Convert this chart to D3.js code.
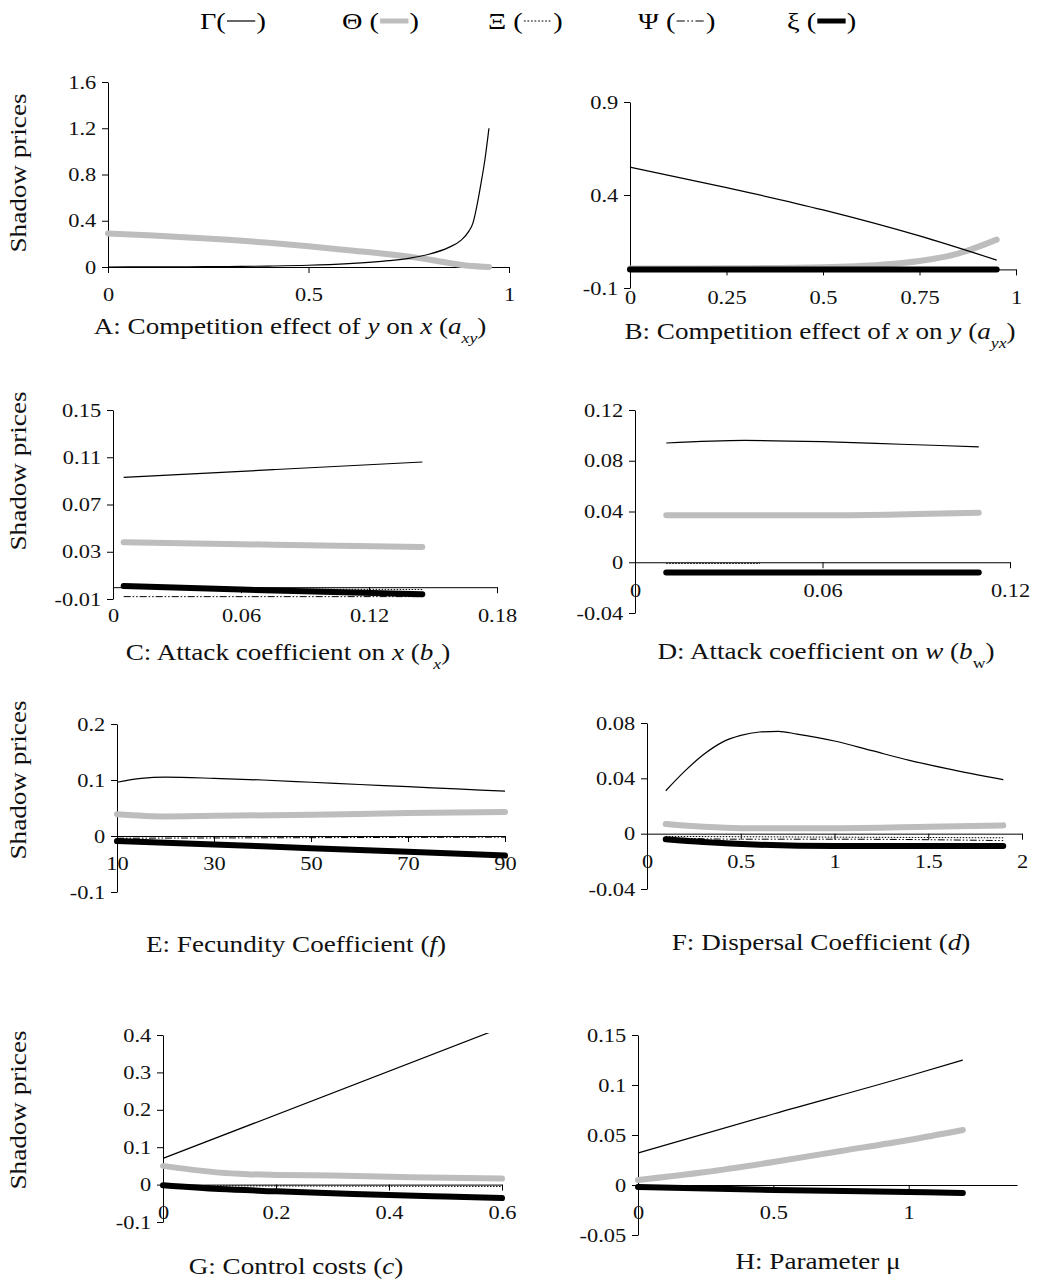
<!DOCTYPE html>
<html>
<head>
<meta charset="utf-8">
<script src="https://cdn.jsdelivr.net/npm/d3@7"></script>
<style>
  body { margin: 0; background: #fff; }
  svg text { font-family: "Liberation Serif", "Times New Roman", serif; }
  .tick text { font-size: 19px; fill: #111; }
  .tick line, .domain { stroke: #000; }
</style>
</head>
<body>
<svg id="chart" width="1055" height="1282"></svg>
<script>
// Series: gamma = Γ, theta = Θ, bigXi = Ξ, psi = Ψ, xi = ξ   ([x, shadow price])

// A: competition effect of y on x
var aGamma = [[0,0],[0.1,0.001],[0.2,0.002],[0.3,0.004],[0.4,0.008],[0.5,0.015],[0.6,0.03],[0.7,0.055],[0.75,0.075],[0.8,0.11],[0.85,0.17],[0.88,0.23],[0.9,0.31],[0.91,0.38],[0.92,0.53],[0.93,0.72],[0.94,0.93],[0.95,1.2]];
var aTheta = [[0,0.29],[0.1,0.275],[0.2,0.255],[0.3,0.235],[0.4,0.21],[0.5,0.18],[0.6,0.145],[0.7,0.11],[0.8,0.065],[0.85,0.035],[0.9,0.01],[0.95,0]];
var aXTicks = [0, 0.5, 1];
var aYTicks = [0, 0.4, 0.8, 1.2, 1.6];

// B: competition effect of x on y
var bGamma = [[0,0.55],[0.25,0.44],[0.5,0.32],[0.75,0.18],[0.95,0.05]];
var bTheta = [[0,0.005],[0.25,0.006],[0.5,0.012],[0.65,0.025],[0.75,0.045],[0.85,0.085],[0.95,0.16]];
var bXi = [[0,0],[0.5,0],[0.95,0]];
var bXTicks = [0, 0.25, 0.5, 0.75, 1];
var bYTicks = [-0.1, 0.4, 0.9];

// C: attack coefficient on x
var cGamma = [[0.005,0.093],[0.075,0.0995],[0.145,0.106]];
var cTheta = [[0.005,0.038],[0.075,0.036],[0.145,0.034]];
var cBigXi = [[0.005,-0.001],[0.145,-0.002]];
var cPsi = [[0.005,-0.008],[0.145,-0.008]];
var cXi = [[0.005,0.001],[0.06,-0.002],[0.145,-0.006]];
var cXTicks = [0, 0.06, 0.12, 0.18];
var cYTicks = [-0.01, 0.03, 0.07, 0.11, 0.15];

// D: attack coefficient on w
var dGamma = [[0.01,0.094],[0.035,0.096],[0.06,0.095],[0.085,0.093],[0.11,0.091]];
var dTheta = [[0.01,0.037],[0.06,0.037],[0.11,0.039]];
var dBigXi = [[0.01,-0.001],[0.04,-0.001]];
var dXi = [[0.01,-0.008],[0.11,-0.008]];
var dXTicks = [0, 0.06, 0.12];
var dYTicks = [-0.04, 0, 0.04, 0.08, 0.12];

// E: fecundity coefficient
var eGamma = [[10,0.096],[15,0.103],[20,0.105],[30,0.103],[40,0.1],[50,0.096],[60,0.092],[70,0.088],[80,0.084],[90,0.08]];
var eTheta = [[10,0.039],[20,0.035],[30,0.036],[50,0.038],[70,0.041],[90,0.043]];
var eBigXi = [[10,-0.001],[90,-0.001]];
var ePsi = [[10,-0.004],[50,-0.003],[90,-0.002]];
var eXi = [[10,-0.009],[30,-0.015],[50,-0.022],[70,-0.028],[90,-0.035]];
var eXTicks = [10, 30, 50, 70, 90];
var eYTicks = [-0.1, 0, 0.1, 0.2];

// F: dispersal coefficient
var fGamma = [[0.1,0.031],[0.2,0.045],[0.3,0.057],[0.4,0.066],[0.5,0.071],[0.6,0.0735],[0.7,0.074],[0.8,0.072],[1,0.067],[1.2,0.06],[1.4,0.053],[1.6,0.047],[1.9,0.039]];
var fTheta = [[0.1,0.007],[0.3,0.005],[0.5,0.004],[1,0.004],[1.5,0.005],[1.9,0.006]];
var fBigXi = [[0.1,-0.002],[1.9,-0.003]];
var fPsi = [[0.1,-0.003],[0.5,-0.004],[1,-0.004],[1.9,-0.005]];
var fXi = [[0.1,-0.004],[0.3,-0.006],[0.6,-0.008],[1,-0.009],[1.5,-0.009],[1.9,-0.009]];
var fXTicks = [0, 0.5, 1, 1.5, 2];
var fYTicks = [-0.04, 0, 0.04, 0.08];

// G: control costs
var gGamma = [[0,0.07],[0.6,0.42]];
var gTheta = [[0,0.05],[0.05,0.04],[0.1,0.032],[0.15,0.028],[0.2,0.026],[0.3,0.024],[0.4,0.021],[0.5,0.018],[0.6,0.016]];
var gBigXi = [[0,-0.003],[0.6,-0.005]];
var gXi = [[0,-0.002],[0.1,-0.012],[0.2,-0.018],[0.3,-0.023],[0.4,-0.028],[0.5,-0.032],[0.6,-0.036]];
var gXTicks = [0, 0.2, 0.4, 0.6];
var gYTicks = [-0.1, 0, 0.1, 0.2, 0.3, 0.4];

// H: parameter mu
var hGamma = [[0,0.032],[0.5,0.071],[1,0.109],[1.2,0.125]];
var hTheta = [[0,0.005],[0.25,0.013],[0.5,0.023],[0.75,0.034],[1,0.045],[1.2,0.055]];
var hXi = [[0,-0.002],[0.5,-0.005],[1,-0.007],[1.2,-0.008]];
var hXTicks = [0, 0.5, 1];
var hYTicks = [-0.05, 0, 0.05, 0.1, 0.15];

var legendNames = ["Γ", "Θ", "Ξ", "Ψ", "ξ"];
var legendKeys = ["gamma", "theta", "bigXi", "psi", "xi"];

// line styles
var styles = {
  gamma: {stroke: "#000", width: 1.2},
  theta: {stroke: "#bdbdbd", width: 6},
  bigXi: {stroke: "#000", width: 1, dash: "1.5,1.5"},
  psi:   {stroke: "#000", width: 1, dash: "7,2,1.5,2,1.5,2"},
  xi:    {stroke: "#000", width: 6}
};
var drawOrder = ["theta", "xi", "gamma", "bigXi", "psi"];
var SX = 1.18; // the original text is set wide

// panel layout (pixel boxes)
var panels = [
  {left:108, right:509, top:82, bottom:267, x:[0,1], y:[0,1.6], xt:aXTicks, yt:aYTicks,
   s:{gamma:aGamma, theta:aTheta}, tx:290, ty:334, ylab:173,
   title:[["A: Competition effect of "],["y","i"],[" on "],["x","i"],[" ("],["a","i"],["xy","sub"],[")"]]},
  {left:630, right:1016, top:102, bottom:288, x:[0,1], y:[-0.1,0.9], xt:bXTicks, yt:bYTicks,
   s:{gamma:bGamma, theta:bTheta, xi:bXi}, tx:820, ty:339,
   title:[["B: Competition effect of "],["x","i"],[" on "],["y","i"],[" ("],["a","i"],["yx","sub"],[")"]]},
  {left:113, right:497, top:410, bottom:599, x:[0,0.18], y:[-0.01,0.15], xt:cXTicks, yt:cYTicks,
   s:{gamma:cGamma, theta:cTheta, bigXi:cBigXi, psi:cPsi, xi:cXi}, tx:288, ty:660, ylab:471,
   title:[["C: Attack coefficient on "],["x","i"],[" ("],["b","i"],["x","sub"],[")"]]},
  {left:635, right:1010, top:410, bottom:613, x:[0,0.12], y:[-0.04,0.12], xt:dXTicks, yt:dYTicks,
   s:{gamma:dGamma, theta:dTheta, bigXi:dBigXi, xi:dXi}, tx:826, ty:659,
   title:[["D: Attack coefficient on "],["w","i"],[" ("],["b","i"],["w","subr"],[")"]]},
  {left:117, right:505, top:724, bottom:892, x:[10,90], y:[-0.1,0.2], xt:eXTicks, yt:eYTicks,
   s:{gamma:eGamma, theta:eTheta, bigXi:eBigXi, psi:ePsi, xi:eXi}, tx:296, ty:952, ylab:780,
   title:[["E: Fecundity Coefficient ("],["f","i"],[")"]]},
  {left:647, right:1022, top:723, bottom:889, x:[0,2], y:[-0.04,0.08], xt:fXTicks, yt:fYTicks,
   s:{gamma:fGamma, theta:fTheta, bigXi:fBigXi, psi:fPsi, xi:fXi}, tx:821, ty:950,
   title:[["F: Dispersal Coefficient ("],["d","i"],[")"]]},
  {left:163, right:502, top:1035, bottom:1222, x:[0,0.6], y:[-0.1,0.4], xt:gXTicks, yt:gYTicks,
   s:{gamma:gGamma, theta:gTheta, bigXi:gBigXi, xi:gXi}, tx:296, ty:1274, ylab:1110,
   title:[["G: Control costs ("],["c","i"],[")"]]},
  {left:638, right:1017, top:1035, bottom:1235, x:[0,1.4], y:[-0.05,0.15], xt:hXTicks, yt:hYTicks,
   s:{gamma:hGamma, theta:hTheta, xi:hXi}, tx:818, ty:1269,
   title:[["H: Parameter μ"]]}
];

var svg = d3.select("#chart");
var fmt = function(v) { return String(+v.toFixed(4)); };

// legend
var lx = [200, 342, 488, 638, 787];
legendKeys.forEach(function(k, i) {
  var g = svg.append("g").attr("transform", "translate(" + lx[i] + ",29) scale(" + SX + ",1)");
  var t1 = g.append("text").attr("font-size", 24).text(legendNames[i] + (i == 0 ? "(" : " ("));
  var w = t1.node().getComputedTextLength();
  var st = styles[k];
  g.append("line")
    .attr("x1", w + 1).attr("x2", w + 25)
    .attr("y1", -8).attr("y2", -8)
    .attr("stroke", st.stroke)
    .attr("stroke-width", Math.min(st.width, 5))
    .attr("stroke-dasharray", st.dash || null);
  g.append("text").attr("font-size", 24).attr("x", w + 26).text(")");
});

panels.forEach(function(p, pi) {
  var g = svg.append("g");
  var x = d3.scaleLinear().domain(p.x).range([p.left, p.right]);
  var y = d3.scaleLinear().domain(p.y).range([p.bottom, p.top]);

  var clipId = "clip" + pi;
  svg.append("clipPath").attr("id", clipId).append("rect")
    .attr("x", p.left - 10).attr("y", p.top - 2)
    .attr("width", p.right - p.left + 20).attr("height", p.bottom - p.top + 10);

  var ya = g.append("g")
    .attr("transform", "translate(" + p.left + ",0)")
    .call(d3.axisLeft(y).tickValues(p.yt).tickSize(6).tickSizeOuter(0).tickPadding(4).tickFormat(fmt));
  ya.selectAll(".tick text").attr("transform", "scale(" + SX + ",1)");

  var xa = g.append("g")
    .attr("transform", "translate(0," + y(0) + ")")
    .call(d3.axisBottom(x).tickValues(p.xt).tickSize(6).tickSizeOuter(0).tickPadding(15).tickFormat(fmt));
  xa.selectAll(".tick text").attr("transform", "scale(" + SX + ",1)");

  var line = d3.line()
    .x(function(d) { return x(d[0]); })
    .y(function(d) { return y(d[1]); })
    .curve(d3.curveMonotoneX);

  var lines = g.append("g").attr("clip-path", "url(#" + clipId + ")");
  drawOrder.forEach(function(k) {
    if (!p.s[k]) return;
    var st = styles[k];
    lines.append("path")
      .datum(p.s[k])
      .attr("d", line)
      .attr("fill", "none")
      .attr("stroke", st.stroke)
      .attr("stroke-width", st.width)
      .attr("stroke-linecap", st.width > 2 ? "round" : "butt")
      .attr("stroke-dasharray", st.dash || null);
  });

  // title
  var t = g.append("text")
    .attr("transform", "translate(" + p.tx + "," + p.ty + ") scale(" + SX + ",1)")
    .attr("text-anchor", "middle")
    .attr("font-size", 23)
    .attr("fill", "#111");
  p.title.forEach(function(part) {
    var ts = t.append("tspan").text(part[0]);
    if (part[1] == "i") ts.attr("font-style", "italic");
    if (part[1] == "sub" || part[1] == "subr") {
      ts.attr("font-size", 15).attr("baseline-shift", "sub");
      if (part[1] == "sub") ts.attr("font-style", "italic");
    }
  });

  if (p.ylab) {
    g.append("text")
      .attr("transform", "translate(18," + p.ylab + ") rotate(-90) scale(" + SX + ",1)")
      .attr("text-anchor", "middle")
      .attr("dominant-baseline", "central")
      .attr("font-size", 23)
      .attr("fill", "#111")
      .text("Shadow prices");
  }
});
</script>
</body>
</html>
